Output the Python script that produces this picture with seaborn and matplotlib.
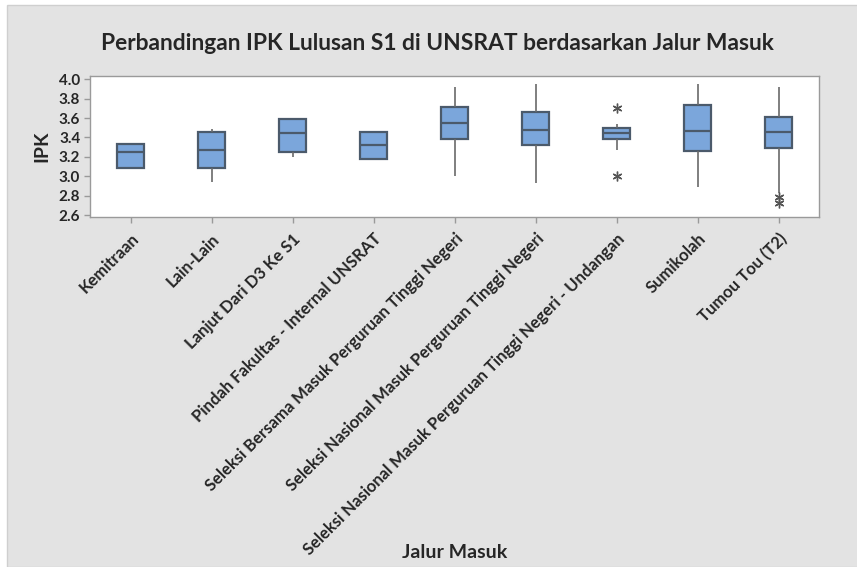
#!/usr/bin/env python3
import numpy as np
import pandas as pd
import matplotlib
matplotlib.use("Agg")
import matplotlib.pyplot as plt
import seaborn as sns
from matplotlib.patches import Rectangle

# box summaries: low whisker, Q1, median, Q3, high whisker
categories = [
    "Kemitraan",
    "Lain-Lain",
    "Lanjut Dari D3 Ke S1",
    "Pindah Fakultas - Internal UNSRAT",
    "Seleksi Bersama Masuk Perguruan Tinggi Negeri",
    "Seleksi Nasional Masuk Perguruan Tinggi Negeri",
    "Seleksi Nasional Masuk Perguruan Tinggi Negeri - Undangan",
    "Sumikolah",
    "Tumou Tou (T2)",
]
whisker_low = [3.09, 2.94, 3.20, 3.18, 3.00, 2.93, 3.27, 2.89, 2.83]
q1 = [3.09, 3.09, 3.25, 3.18, 3.38, 3.32, 3.38, 3.26, 3.29]
median = [3.25, 3.27, 3.445, 3.32, 3.55, 3.48, 3.445, 3.47, 3.46]
q3 = [3.33, 3.46, 3.59, 3.46, 3.71, 3.66, 3.50, 3.73, 3.615]
whisker_high = [3.33, 3.49, 3.59, 3.46, 3.92, 3.955, 3.535, 3.955, 3.92]
outliers = [[], [], [], [], [], [], [3.70, 3.005], [], [2.79, 2.727]]


def rebuild(lo, a, m, b, hi, extra, rep=20):
    # rebuild a sample whose quartiles and whiskers match the summary
    return [lo] + [a] * rep + [m] * rep + [b] * rep + [hi] + list(extra)


rows = []
for i, cat in enumerate(categories):
    for v in rebuild(whisker_low[i], q1[i], median[i], q3[i], whisker_high[i], outliers[i]):
        rows.append((cat, v))
df = pd.DataFrame(rows, columns=["Jalur Masuk", "IPK"])

sns.set_style("white")
plt.rcParams["font.family"] = ["Lato", "DejaVu Sans"]

bg = "#e3e3e3"
fig = plt.figure(figsize=(8.57, 5.67), dpi=100)
fig.patch.set_facecolor("white")
fig.patches.append(Rectangle((7 / 857, 0), 1, 1 - 5 / 567, transform=fig.transFigure,
                             facecolor=bg, edgecolor="#cfcfcf", lw=1.0, zorder=-10))
ax = fig.add_axes([90 / 857, 1 - 217 / 567, 729 / 857, 141 / 567])

edge = "#4b5a6b"
sns.boxplot(
    data=df, x="Jalur Masuk", y="IPK", order=categories, ax=ax,
    width=0.34, color="#7ba6db", saturation=1, showcaps=False,
    boxprops=dict(edgecolor=edge, linewidth=1.6),
    medianprops=dict(color=edge, linewidth=1.6),
    whiskerprops=dict(color="#6a6a6a", linewidth=1.2),
    flierprops=dict(marker=(6, 2, 0), markersize=7, markeredgecolor="#555555",
                    markeredgewidth=1.0, markerfacecolor="none"),
)

ax.set_xlim(-0.5, 8.5)
ax.set_ylim(2.58, 4.034)
ax.set_yticks(np.arange(2.6, 4.01, 0.2))
ax.set_yticklabels([f"{t:.1f}" for t in np.arange(2.6, 4.01, 0.2)],
                   fontsize=11, fontweight="bold")
ax.set_xticks(range(len(categories)))
ax.set_xticklabels(categories, rotation=45, ha="right", rotation_mode="anchor",
                   fontsize=12, fontweight="bold")
ax.tick_params(axis="both", direction="out", length=4, width=1, color="#9a9a9a",
               bottom=True, left=True, pad=3)
ax.tick_params(axis="x", pad=6)
for s in ax.spines.values():
    s.set_color("#9a9a9a")
    s.set_linewidth(1.0)
ax.set_facecolor("white")

ax.set_ylabel("IPK", fontsize=14, fontweight="bold", labelpad=6)
ax.set_xlabel("")
fig.text(0.5 * (90 + 819) / 857, 1 - 553 / 567, "Jalur Masuk", ha="center", va="center",
         fontsize=14, fontweight="bold")
fig.text(437 / 857, 1 - 43 / 567,
         "Perbandingan IPK Lulusan S1 di UNSRAT berdasarkan Jalur Masuk",
         ha="center", va="center", fontsize=16.4, fontweight="bold")

fig.savefig("out.png", dpi=100, facecolor=fig.get_facecolor())
